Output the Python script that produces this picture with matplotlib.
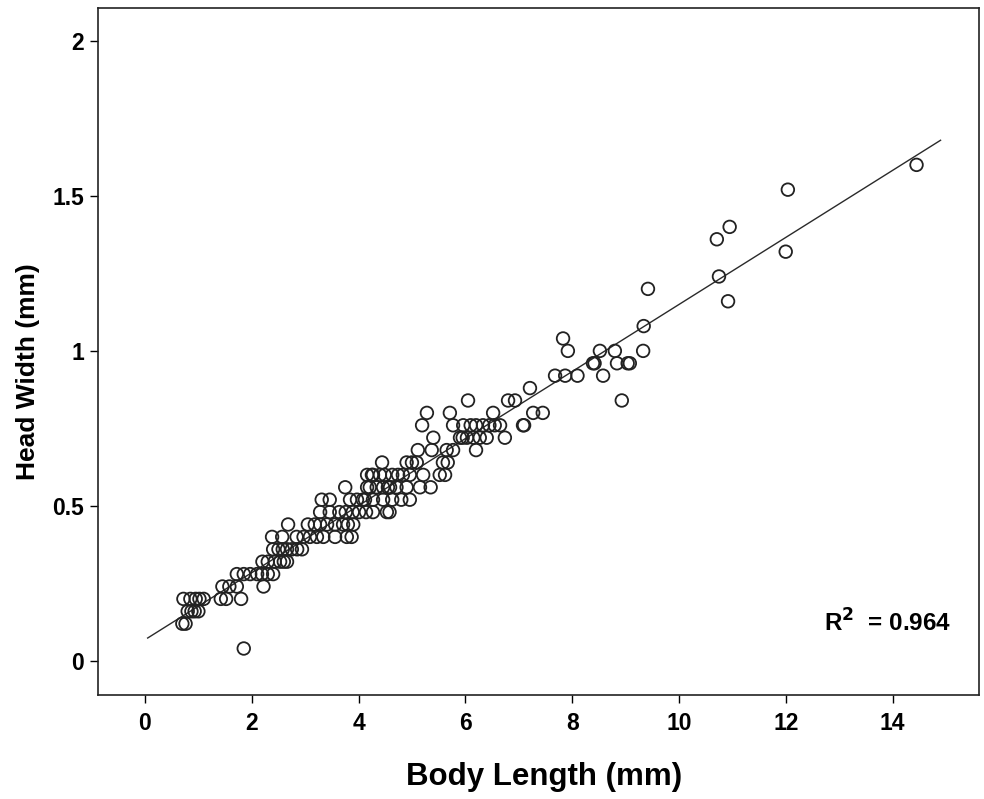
import numpy as np
import matplotlib
matplotlib.use("Agg")
import matplotlib.pyplot as plt

plt.rcParams['font.family'] = ['Liberation Sans', 'DejaVu Sans']

# Head width rows (mm) and the body lengths (mm) observed at each row
rows = {
    0.04: [1.85],
    0.12: [0.70, 0.76],
    0.16: [0.80, 0.87, 0.93, 1.00],
    0.20: [0.72, 0.85, 0.95, 1.02, 1.10, 1.42, 1.52, 1.80],
    0.24: [1.45, 1.58, 1.72, 2.22],
    0.28: [1.72, 1.85, 1.97, 2.10, 2.19, 2.30, 2.40],
    0.32: [2.20, 2.30, 2.43, 2.53, 2.60, 2.66],
    0.36: [2.40, 2.50, 2.58, 2.66, 2.75, 2.85, 2.94],
    0.40: [2.38, 2.57, 2.84, 2.97, 3.09, 3.22, 3.34, 3.56, 3.78, 3.87],
    0.44: [2.68, 3.05, 3.18, 3.28, 3.41, 3.56, 3.71, 3.80, 3.90],
    0.48: [3.28, 3.46, 3.64, 3.76, 3.89, 4.01, 4.14, 4.27, 4.53, 4.58],
    0.52: [3.31, 3.46, 3.84, 3.97, 4.08, 4.12, 4.27, 4.46, 4.63, 4.80, 4.96],
    0.56: [3.75, 4.16, 4.21, 4.34, 4.46, 4.55, 4.59, 4.71, 4.90, 5.15, 5.35],
    0.60: [4.16, 4.25, 4.27, 4.40, 4.49, 4.63, 4.74, 4.83, 4.96, 5.21, 5.52, 5.62],
    0.64: [4.44, 4.90, 5.00, 5.09, 5.58, 5.67],
    0.68: [5.11, 5.37, 5.65, 5.77, 6.20],
    0.72: [5.40, 5.90, 5.95, 6.03, 6.15, 6.27, 6.40, 6.74],
    0.76: [5.19, 5.77, 5.96, 6.10, 6.20, 6.33, 6.45, 6.55, 6.65, 7.08, 7.10],
    0.80: [5.28, 5.71, 6.52, 7.27, 7.45],
    0.84: [6.05, 6.80, 6.93, 8.93],
    0.88: [7.21],
    0.92: [7.68, 7.87, 8.10, 8.58],
    0.96: [8.39, 8.42, 8.84, 9.04, 9.08],
    1.00: [7.92, 8.52, 8.80, 9.33],
    1.04: [7.83],
    1.08: [9.34],
    1.16: [10.92],
    1.20: [9.42],
    1.24: [10.75],
    1.32: [12.00],
    1.36: [10.71],
    1.40: [10.95],
    1.52: [12.04],
    1.60: [14.45],
}

body_length = np.array([x for y, xs in rows.items() for x in xs])
head_width = np.array([y for y, xs in rows.items() for x in xs])

x_ticks = [0, 2, 4, 6, 8, 10, 12, 14]
y_ticks = [0, 0.5, 1, 1.5, 2]
y_tick_labels = ['0', '0.5', '1', '1.5', '2']
r2_text = r'R$^{\mathbf{2}}$  = 0.964'

fig = plt.figure(figsize=(9.84, 7.99), dpi=100)
ax = fig.add_axes([98 / 984, 104 / 799, 881 / 984, 687 / 799])

ax.scatter(body_length, head_width, s=82, facecolors='none',
           edgecolors='#222222', linewidths=1.3, zorder=3)

slope, intercept = np.polyfit(body_length, head_width, 1)
xl = np.array([0.05, 14.9])
ax.plot(xl, intercept + slope * xl, color='#2a2a2a', lw=1.0, zorder=2)

ax.set_xlim(-0.88, 15.62)
ax.set_ylim(-0.11, 2.106)
ax.set_xticks(x_ticks)
ax.set_xticklabels([str(t) for t in x_ticks])
ax.set_yticks(y_ticks)
ax.set_yticklabels(y_tick_labels)
ax.tick_params(direction='out', length=6, width=1.0, labelsize=16.5, pad=4)
ax.tick_params(axis='x', pad=6)
for lab in ax.get_xticklabels() + ax.get_yticklabels():
    lab.set_fontweight('bold')
for sp in ax.spines.values():
    sp.set_linewidth(1.2)
    sp.set_color('#222222')

ax.set_xlabel('Body Length (mm)', fontsize=22.5, fontweight='bold', labelpad=18)
ax.set_ylabel('Head Width (mm)', fontsize=19, fontweight='bold')
ax.yaxis.set_label_coords(-0.066, 0.47)
ax.xaxis.set_label_coords(0.506, -0.097)

ax.text(13.9, 0.123, r2_text, fontsize=17.5, fontweight='bold',
        ha='center', va='center')

fig.savefig('out.png', dpi=100)
